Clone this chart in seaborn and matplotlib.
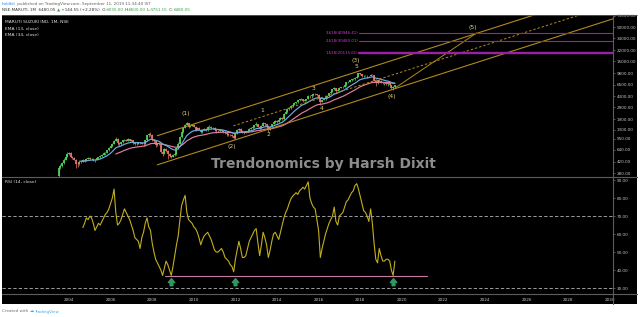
import numpy as np
import pandas as pd
import matplotlib
matplotlib.use("Agg")
import matplotlib.pyplot as plt
from matplotlib.patches import Rectangle
from matplotlib.path import Path
import seaborn as sns

# ---------------- data ----------------
start_month = "2003-07-01"
first_open = 250.0
close_2003 = [330, 360, 400, 450, 500, 560]
high_2003 = [345, 380, 420, 470, 530, 590]
low_2003 = [243, 320, 350, 390, 440, 490]
close_2004 = [580, 500, 470, 450, 390, 380, 410, 420, 440, 430, 460, 475]
high_2004 = [600, 595, 520, 490, 465, 410, 420, 440, 455, 460, 470, 490]
low_2004 = [540, 490, 455, 440, 330, 350, 370, 400, 410, 415, 425, 455]
close_2005 = [455, 465, 440, 445, 470, 490, 510, 540, 575, 580, 625, 690]
high_2005 = [490, 480, 475, 460, 480, 500, 525, 555, 590, 600, 640, 700]
low_2005 = [440, 445, 430, 420, 440, 465, 480, 500, 530, 540, 570, 620]
close_2006 = [720, 800, 880, 950, 820, 790, 830, 900, 920, 880, 930, 890]
high_2006 = [740, 820, 900, 1000, 990, 830, 850, 920, 950, 940, 960, 940]
low_2006 = [670, 710, 790, 860, 760, 720, 770, 820, 880, 860, 870, 860]
close_2007 = [900, 820, 790, 800, 830, 820, 800, 780, 900, 1080, 1120, 1100]
high_2007 = [930, 910, 840, 820, 850, 850, 840, 820, 910, 1100, 1150, 1200]
low_2007 = [860, 800, 750, 770, 790, 800, 780, 740, 770, 880, 1020, 1060]
close_2008 = [900, 860, 760, 800, 780, 600, 560, 650, 620, 560, 520, 500]
high_2008 = [1130, 950, 880, 820, 830, 800, 630, 680, 680, 640, 580, 540]
low_2008 = [860, 820, 700, 730, 760, 580, 520, 550, 590, 460, 490, 480]
close_2009 = [540, 560, 680, 800, 1000, 1200, 1400, 1550, 1650, 1450, 1500, 1550]
high_2009 = [560, 580, 700, 830, 1050, 1220, 1420, 1600, 1720, 1680, 1560, 1600]
low_2009 = [490, 520, 540, 650, 780, 980, 1150, 1380, 1520, 1400, 1420, 1480]
close_2010 = [1450, 1300, 1400, 1300, 1200, 1300, 1350, 1280, 1450, 1450, 1390, 1400]
high_2010 = [1600, 1480, 1420, 1440, 1320, 1320, 1380, 1370, 1480, 1520, 1500, 1430]
low_2010 = [1420, 1250, 1280, 1280, 1150, 1180, 1280, 1250, 1270, 1400, 1350, 1320]
close_2011 = [1300, 1250, 1260, 1280, 1250, 1200, 1150, 1130, 1100, 1080, 1050, 960]
high_2011 = [1420, 1320, 1290, 1310, 1300, 1280, 1230, 1180, 1170, 1140, 1120, 1070]
low_2011 = [1270, 1180, 1220, 1220, 1200, 1160, 1120, 1050, 1060, 1040, 1010, 940]
close_2012 = [1150, 1300, 1360, 1270, 1200, 1190, 1230, 1270, 1350, 1380, 1420, 1530]
high_2012 = [1180, 1330, 1400, 1380, 1290, 1230, 1260, 1290, 1380, 1420, 1450, 1560]
low_2012 = [950, 1120, 1270, 1250, 1150, 1140, 1150, 1200, 1250, 1320, 1350, 1400]
close_2013 = [1600, 1450, 1380, 1500, 1650, 1600, 1500, 1300, 1450, 1600, 1700, 1800]
high_2013 = [1690, 1620, 1480, 1520, 1720, 1680, 1620, 1520, 1480, 1630, 1760, 1850]
low_2013 = [1500, 1420, 1300, 1350, 1480, 1500, 1450, 1220, 1280, 1420, 1580, 1680]
close_2014 = [1750, 1850, 2000, 1900, 2300, 2450, 2700, 2800, 3050, 3200, 3400, 3450]
high_2014 = [1850, 1880, 2050, 2030, 2400, 2550, 2750, 2900, 3100, 3300, 3500, 3550]
low_2014 = [1650, 1700, 1820, 1850, 1850, 2250, 2400, 2650, 2780, 2950, 3150, 3300]
close_2015 = [3700, 3850, 3900, 3650, 3800, 3900, 4400, 4350, 4450, 4700, 4600, 4550]
high_2015 = [3800, 3900, 4000, 3950, 3850, 3950, 4450, 4500, 4500, 4800, 4750, 4650]
low_2015 = [3400, 3600, 3750, 3550, 3600, 3650, 3850, 4000, 4100, 4400, 4500, 4400]
close_2016 = [4100, 3550, 3750, 3900, 4200, 4300, 4800, 5000, 5500, 5800, 5200, 5450]
high_2016 = [4600, 4150, 3800, 3950, 4250, 4400, 4850, 5100, 5600, 5900, 5850, 5500]
low_2016 = [4000, 3200, 3500, 3700, 3800, 4050, 4250, 4700, 4950, 5400, 4800, 5100]
close_2017 = [5850, 5950, 6050, 6350, 7150, 7200, 7750, 7850, 8000, 8350, 8650, 9700]
high_2017 = [5950, 6050, 6200, 6600, 7200, 7400, 7800, 8000, 8200, 8400, 8700, 9800]
low_2017 = [5400, 5700, 5850, 5950, 6300, 6900, 7100, 7500, 7650, 7700, 8200, 8600]
close_2018 = [9400, 8900, 8900, 8950, 8750, 8800, 9300, 9200, 7450, 6800, 7600, 7350]
high_2018 = [10000, 9500, 9200, 9250, 9100, 8900, 9450, 9500, 9250, 7600, 7650, 7700]
low_2018 = [9200, 8600, 8600, 8700, 8300, 8500, 8700, 9000, 7300, 6200, 6700, 7200]
close_2019 = [7000, 6800, 6900, 6600, 6800, 6450, 5700, 6035, 6480.05]
high_2019 = [7700, 7250, 7100, 7000, 7000, 6900, 6500, 6250, 6500]
low_2019 = [6900, 6650, 6500, 6400, 6300, 6400, 5650, 5450, 5751.15]

rsi_start = "2004-09-01"
rsi14 = [
    63.6, 66, 69, 68, 70, 69,
    66, 62, 64, 66, 65, 67, 69, 71, 72, 74,
    77, 80, 85, 72, 65, 66, 68, 71, 74, 72,
    70, 68, 65, 62, 58, 57, 56, 52, 58, 61,
    66, 69, 64, 62, 55, 50, 46, 44, 42, 40,
    37, 41, 45, 43, 40, 37, 42, 48, 54, 59,
    68, 76, 79, 81.5, 72, 68, 67, 66, 64, 63,
    61, 58, 54, 57, 59, 60, 61, 59, 57, 54,
    51, 50, 50, 51, 52, 50, 47, 46, 45, 43,
    42, 39, 46, 51, 56, 52, 47, 47, 48, 52,
    56, 58, 60, 62, 63, 55, 48, 54, 61, 58,
    54, 47, 51, 56, 60, 61, 59, 57, 61, 65,
    69, 72, 74, 77, 79.5, 81, 82, 83, 82, 84,
    85, 86, 85, 87, 89, 80, 77, 75, 74, 68,
    62, 47, 52, 56, 60, 63, 66, 68, 70, 75,
    67, 65, 70, 71, 72, 75, 78, 79, 81, 83,
    84, 87, 88, 85, 81, 77, 73, 72, 70, 67,
    74, 66, 55, 46, 44, 52, 48, 45, 45, 46,
    46, 45, 40, 37, 45,
]
ema_fast_len = 13
ema_slow_len = 34

price_ticks = [280, 420, 640, 950, 1300, 1900, 2900, 4300, 6500, 9800,
               15000, 22000, 34000, 50000, 75000]
rsi_ticks = [30, 40, 50, 60, 70, 80, 90]
year_ticks = list(range(2004, 2031, 2))

fib_names = ["3.618", "2.618", "1.618"]
fib_levels = [40946.41, 30483.01, 20115.61]
fib_start = 2017.95

lower_channel = [(2008.25, 375.0), (2019.65, 5600.0)]
upper_ratio = 2.82
mid_start = 2011.9
projection = [(2019.67, 5750.0), (2023.6, 41000.0)]

wave_labels = ["(1)", "(2)", "1", "2", "3", "4", "5", "(3)", "(4)", "(5)"]
wave_x = [2009.6, 2011.84, 2013.3, 2013.6, 2015.73, 2016.16, 2017.8, 2017.8, 2019.53, 2023.4]
wave_y = [2360, 731, 2630, 1120, 5750, 2830, 12200, 15100, 4190, 50400]

rsi_support = 36.7
rsi_support_span = (2008.6, 2021.2)
arrow_dates = ["2008-12-01", "2012-01-01", "2019-08-01"]
arrow_level = 33.2

# ---------------- prep ----------------
years = range(2003, 2020)
close = sum((globals()[f"close_{y}"] for y in years), [])
high = sum((globals()[f"high_{y}"] for y in years), [])
low = sum((globals()[f"low_{y}"] for y in years), [])
dates = pd.date_range(start_month, periods=len(close), freq="MS")
def dec_year(d):
    return d.year + (d.month - 1) / 12.0
df = pd.DataFrame({"t": dec_year(dates), "close": close, "high": high, "low": low})
df["open"] = df["close"].shift(1).fillna(first_open)
s = df["close"]
df["ema13"] = s.ewm(span=ema_fast_len, adjust=False).mean()
df["ema34"] = s.ewm(span=ema_slow_len, adjust=False).mean()
df.loc[:ema_fast_len - 2, "ema13"] = np.nan
df.loc[:ema_slow_len - 2, "ema34"] = np.nan

rdates = pd.date_range(rsi_start, periods=len(rsi14), freq="MS")
rdf = pd.DataFrame({"t": dec_year(rdates), "rsi": rsi14})

# ---------------- style ----------------
sns.set_theme(style="dark")
plt.rcParams["font.family"] = ["DejaVu Sans"]

W, H = 640, 317
fig = plt.figure(figsize=(W / 100, H / 100), dpi=100, facecolor="white")

back = fig.add_axes([0, 0, 1, 1], zorder=0)
back.set_xlim(0, W); back.set_ylim(H, 0); back.axis("off")
back.add_patch(Rectangle((2, 15), 635, 289, color="black", lw=0))

x0 = 2004 + (2 - 69) / 20.8
x1 = 2004 + (613 - 69) / 20.8

ax_p = fig.add_axes([2 / W, 1 - 177 / H, 611 / W, 162 / H], zorder=2)
ax_r = fig.add_axes([2 / W, 1 - 294 / H, 611 / W, 117 / H], zorder=2)
for ax in (ax_p, ax_r):
    ax.set_facecolor("black")
    for sp in ax.spines.values():
        sp.set_visible(False)
    ax.grid(False)
    ax.yaxis.tick_right()
    ax.tick_params(axis="y", colors="#9a9a9a", labelcolor="#c8c8c8", labelsize=3,
                   length=1.6, width=0.4, pad=1)
    ax.set_xlim(x0, x1)

# ---- price panel ----
ax_p.set_yscale("log")
ax_p.set_ylim(243, 77460)
up = df["close"] >= df["open"]
lo = np.minimum(df["open"], df["close"])
hi = np.maximum(df["open"], df["close"])
for mask, col in ((up, "#5ad35a"), (~up, "#ec7a68")):
    ax_p.vlines(df["t"][mask], df["low"][mask], df["high"][mask], colors=col, linewidth=0.5, zorder=3)
    ax_p.vlines(df["t"][mask], lo[mask], hi[mask], colors=col, linewidth=1.25, zorder=3)
sns.lineplot(data=df, x="t", y="ema34", ax=ax_p, color="#e07ea6", linewidth=0.85, legend=False, zorder=4)
sns.lineplot(data=df, x="t", y="ema13", ax=ax_p, color="#6aaee0", linewidth=0.85, legend=False, zorder=4)

def extend(p1, p2, x):
    k = (np.log10(p2[1]) - np.log10(p1[1])) / (p2[0] - p1[0])
    return p1[1] * 10 ** (k * (x - p1[0]))

gold = "#b08a1c"
lx = [lower_channel[0][0], x1]
ly = [lower_channel[0][1], extend(*lower_channel, x1)]
ax_p.plot(lx, ly, color=gold, lw=0.8, zorder=5)
ax_p.plot(lx, [v * upper_ratio for v in ly], color=gold, lw=0.8, zorder=5)
mx = [mid_start, x1]
my = [extend(*lower_channel, x) * np.sqrt(upper_ratio) for x in mx]
ax_p.plot(mx, my, color=gold, lw=0.7, ls=(0, (2.5, 2)), zorder=5)
ax_p.plot([p[0] for p in projection], [p[1] for p in projection], color=gold, lw=0.7, zorder=5)

for name, lvl, lw in zip(fib_names, fib_levels, [0.8, 0.8, 1.7]):
    ax_p.plot([fib_start, x1], [lvl, lvl], color="#9c1fa8", lw=lw, zorder=5)
    ax_p.text(fib_start - 0.05, lvl, f"{name}({lvl:.2f})", color="#d040d0", fontsize=2.8,
              ha="right", va="center", zorder=6)

for lab, xx, yy in zip(wave_labels, wave_x, wave_y):
    ax_p.text(xx, yy, lab, color="#e6d27e", fontsize=4.3, ha="center", va="center", zorder=6)

ax_p.set_yticks(price_ticks)
ax_p.yaxis.set_minor_locator(matplotlib.ticker.NullLocator())
ax_p.set_yticklabels([f"{v:.2f}" for v in price_ticks])
ax_p.set_xticks([]); ax_p.set_xlabel(""); ax_p.set_ylabel("")

ax_p.text(0.005, 0.955, "MARUTI SUZUKI IND, 1M, NSE", transform=ax_p.transAxes,
          color="#e0e0e0", fontsize=3.2, va="center")
ax_p.text(0.005, 0.915, "EMA (13, close)", transform=ax_p.transAxes,
          color="#e0e0e0", fontsize=3.2, va="center")
ax_p.text(0.005, 0.875, "EMA (34, close)", transform=ax_p.transAxes,
          color="#e0e0e0", fontsize=3.2, va="center")

# ---- RSI panel ----
ax_r.set_ylim(26.7, 91.7)
for lvl in (70, 30):
    ax_r.axhline(lvl, color="#b4b4b4", lw=0.6, ls=(0, (4, 2.5)), zorder=2)
ax_r.plot(list(rsi_support_span), [rsi_support, rsi_support], color="#c87aa4", lw=0.8, zorder=3)
sns.lineplot(data=rdf, x="t", y="rsi", ax=ax_r, color="#c2ae1e", linewidth=0.8, legend=False, zorder=4)
arrow = Path([(-0.5, 0), (0, 0.6), (0.5, 0), (0.22, 0), (0.22, -0.5), (-0.22, -0.5), (-0.22, 0), (-0.5, 0)],
             [Path.MOVETO] + [Path.LINETO] * 6 + [Path.CLOSEPOLY])
ad = pd.to_datetime(arrow_dates)
ax_r.plot(dec_year(ad), [arrow_level] * len(ad), ls="none", marker=arrow, markersize=5.5,
          color="#2f9a62", zorder=5)
ax_r.set_yticks(rsi_ticks)
ax_r.set_yticklabels([f"{v:.2f}" for v in rsi_ticks])
ax_r.set_xticks(year_ticks)
ax_r.set_xticklabels([str(y) for y in year_ticks])
ax_r.tick_params(axis="x", colors="#c8c8c8", labelsize=3, length=0, pad=3)
ax_r.set_xlabel(""); ax_r.set_ylabel("")
ax_r.text(0.005, 0.955, "RSI (14, close)", transform=ax_r.transAxes,
          color="#e0e0e0", fontsize=3.2, va="center")

# ---------------- front overlay ----------------
front = fig.add_axes([0, 0, 1, 1], zorder=10)
front.set_xlim(0, W); front.set_ylim(H, 0); front.axis("off")
sep = "#5c5c5c"
front.plot([2, 637], [15.3, 15.3], color=sep, lw=0.6)
front.plot([2, 637], [177, 177], color=sep, lw=0.8)
front.plot([2, 637], [294, 294], color=sep, lw=0.8)
front.plot([613, 613], [15, 304], color=sep, lw=0.8)

front.text(323.7, 164.3, "Trendonomics by Harsh Dixit", color="#8c8c8c", fontsize=10,
           fontweight="bold", ha="center", va="center")

def chain(x, y, parts, size=3.0):
    t = front.text(x, y, parts[0][0], color=parts[0][1], fontsize=size, va="center", ha="left")
    for txt, col in parts[1:]:
        t = front.annotate(txt, xy=(1, 0), xycoords=t, color=col, fontsize=size,
                           va="bottom", ha="left")
    return t

chain(2, 3.6, [("holdkit", "#2f8de4"),
               (" published on TradingView.com, September 11, 2019 11:34:40 IST", "#606060")])
g = "#3aa04a"; dk = "#333333"
chain(2, 10.0, [("NSE:MARUTI, 1M  6480.05 ", dk), ("\u25b2", g), (" +144.55 (+2.28%)  O:", dk),
                ("6035.00", g), (" H:", dk), ("6500.00", g), (" L:", dk), ("5751.15", g),
                (" C:", dk), ("6480.05", g)])
chain(2, 311.5, [("Created with ", "#707070"), ("\u2601", "#49a7e8"), ("TradingView", "#49a7e8")])

fig.savefig("out.png", dpi=100, facecolor="white")
